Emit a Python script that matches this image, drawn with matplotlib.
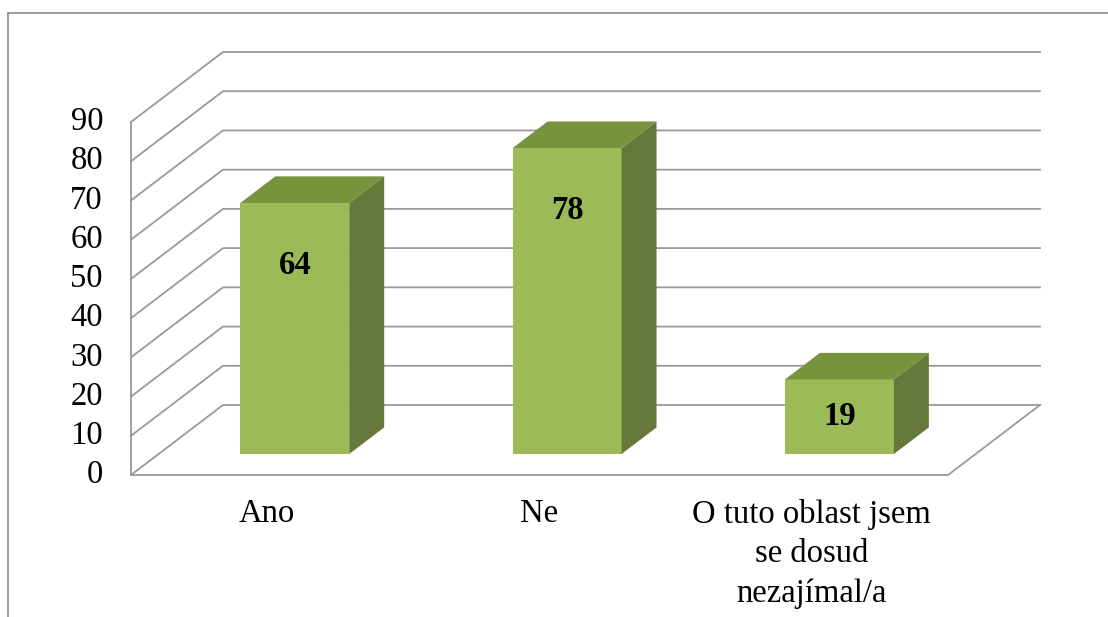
import matplotlib.pyplot as plt
from matplotlib.patches import Polygon
from matplotlib.lines import Line2D

# data
categories = ["Ano", "Ne", "O tuto oblast jsem\nse dosud\nnezajímal/a"]
values = [64, 78, 19]
ticks = list(range(0, 100, 10))

# colours (Excel olive 3D look)
c_front = "#9BBB59"
c_top = "#77933C"
c_side = "#66793A"
c_grid = "#999999"

W, H = 1108, 617
fig = plt.figure(figsize=(W / 100, H / 100), dpi=100)
plt.rcParams['font.family'] = ['Liberation Serif', 'DejaVu Serif']

# front plane of the 3d box: category axis -0.5..2.5, value axis 0..90
ax = fig.add_axes([131 / W, (H - 475) / H, 817 / W, 353 / H])
ax.set_xlim(-0.5, 2.5)
ax.set_ylim(0, 90)
ax.axis("off")

# depth offset (one full depth unit) in data units
DX = 92 / (817 / 3)
DY = 70 / (353 / 90)

# walls / gridlines
for v in ticks:
    ax.plot([-0.5, -0.5 + DX, 2.5 + DX], [v, v + DY, v + DY],
            color=c_grid, lw=1.3, clip_on=False, zorder=1)
    ax.annotate(str(v), (-0.5, v), xytext=(-28, 0), textcoords="offset pixels",
                ha="right", va="center", fontsize=23.5, annotation_clip=False)
ax.plot([-0.5, -0.5], [0, 90], color=c_grid, lw=1.3, clip_on=False, zorder=1)
ax.plot([-0.5, 2.5, 2.5 + DX], [0, 0, DY], color=c_grid, lw=1.3,
        clip_on=False, zorder=1)

# bars
d0, dd, bw = 0.3, 0.38, 0.4
for i, v in enumerate(values):
    x0 = i + d0 * DX - bw / 2
    x1 = x0 + bw
    yb = d0 * DY
    yt = yb + v
    ox, oy = dd * DX, dd * DY
    ax.add_patch(Polygon([(x0, yb), (x1, yb), (x1, yt), (x0, yt)],
                         closed=True, fc=c_front, ec="none", zorder=3, clip_on=False))
    ax.add_patch(Polygon([(x0, yt), (x1, yt), (x1 + ox, yt + oy), (x0 + ox, yt + oy)],
                         closed=True, fc=c_top, ec="none", zorder=3, clip_on=False))
    ax.add_patch(Polygon([(x1, yb), (x1 + ox, yb + oy), (x1 + ox, yt + oy), (x1, yt)],
                         closed=True, fc=c_side, ec="none", zorder=3, clip_on=False))
    ly = yb + max(v - 16, v / 2)
    ax.text(i + d0 * DX, ly, str(v), ha="center", va="center", fontsize=23.5,
            fontweight="bold", zorder=4)

# category labels
for i, lab in enumerate(categories):
    ax.annotate(lab, (i, 0), xytext=(0, -24), textcoords="offset pixels",
                ha="center", va="top", fontsize=23.5, linespacing=1.38,
                annotation_clip=False)

# chart frame (cut at right/bottom)
fig.add_artist(Line2D([8 / W, 1], [1 - 13 / H, 1 - 13 / H], color="#8C8C8C", lw=1.2))
fig.add_artist(Line2D([8 / W, 8 / W], [0, 1 - 13 / H], color="#8C8C8C", lw=1.2))

fig.savefig("out.png", dpi=100)
